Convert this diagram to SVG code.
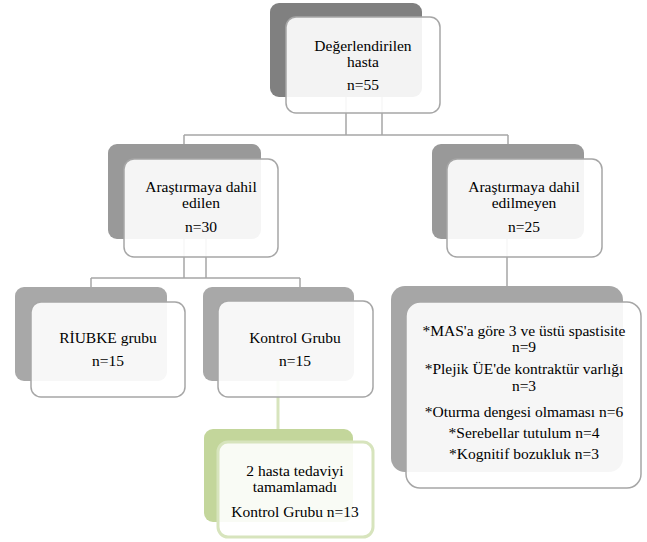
<svg xmlns="http://www.w3.org/2000/svg" width="647" height="542" viewBox="0 0 647 542">
<style>
.fr{fill:#ffffff;fill-opacity:0.9;stroke:#a6a6a6;stroke-width:1.5}
.frg{fill:#ffffff;fill-opacity:0.9;stroke:#d7e4bd;stroke-width:3}
.cn{stroke:#a6a6a6;stroke-width:1.5;fill:none}
.t{font-family:"Times New Roman",Times,Tinos,"Liberation Serif","Noto Serif","DejaVu Serif",serif;font-size:15.5px;fill:#000;text-anchor:middle}
</style>
<rect width="647" height="542" fill="#ffffff"/>
<g id="connectors">
<path class="cn" d="M346 97V135M382 97V135M184 135H508M184 135V144M508 135V144"/>
<path class="cn" d="M184 239V278M206 239V278M91 278H300M91 278V287M300 278V287"/>
<path class="cn" d="M507 239V286"/>
<path d="M278 381V429" stroke="#d7e4bd" stroke-width="3" fill="none"/>
</g>
<g id="node-hasta">
<rect x="270" y="3" width="152" height="94" rx="9" fill="#808080"/>
<rect class="fr" x="286" y="17" width="154" height="96" rx="10"/>
<text class="t" x="363" y="51">Değerlendirilen</text>
<text class="t" x="363" y="67">hasta</text>
<text class="t" x="363" y="90">n=55</text>
</g>
<g id="node-dahil">
<rect x="108" y="144" width="153" height="95" rx="9" fill="#999999"/>
<rect class="fr" x="124" y="159" width="154" height="98" rx="10"/>
<text class="t" x="201" y="192">Araştırmaya dahil</text>
<text class="t" x="201" y="208">edilen</text>
<text class="t" x="201" y="232">n=30</text>
</g>
<g id="node-dahil-degil">
<rect x="432" y="144" width="152" height="95" rx="9" fill="#999999"/>
<rect class="fr" x="447" y="159" width="155" height="98" rx="10"/>
<text class="t" x="524" y="192">Araştırmaya dahil</text>
<text class="t" x="524" y="208">edilmeyen</text>
<text class="t" x="524" y="232">n=25</text>
</g>
<g id="node-riubke">
<rect x="15" y="287" width="152" height="94" rx="9" fill="#a8a8a8"/>
<rect class="fr" x="31" y="302" width="154" height="95" rx="10"/>
<text class="t" x="108" y="343">RİUBKE grubu</text>
<text class="t" x="108" y="366">n=15</text>
</g>
<g id="node-kontrol">
<rect x="203" y="287" width="151" height="94" rx="9" fill="#a8a8a8"/>
<rect class="fr" x="218" y="301" width="155" height="96" rx="10"/>
<text class="t" x="295" y="343">Kontrol Grubu</text>
<text class="t" x="295" y="366">n=15</text>
</g>
<g id="node-exclusion">
<rect x="391" y="286" width="232" height="186" rx="14" fill="#a6a6a6"/>
<rect class="fr" x="406" y="302" width="235" height="186" rx="14"/>
<text class="t" x="524" y="336">*MAS'a göre 3 ve üstü spastisite</text>
<text class="t" x="524" y="352">n=9</text>
<text class="t" x="524" y="374">*Plejik ÜE'de kontraktür varlığı</text>
<text class="t" x="524" y="391">n=3</text>
<text class="t" x="524" y="417">*Oturma dengesi olmaması n=6</text>
<text class="t" x="524" y="438">*Serebellar tutulum n=4</text>
<text class="t" x="524" y="459">*Kognitif bozukluk n=3</text>
</g>
<g id="node-kontrol-13">
<rect x="204" y="429" width="149" height="93" rx="9" fill="#c3d69b"/>
<rect class="frg" x="218" y="442" width="155" height="95" rx="10"/>
<text class="t" x="295" y="476">2 hasta tedaviyi</text>
<text class="t" x="295" y="492">tamamlamadı</text>
<text class="t" x="295" y="517">Kontrol Grubu n=13</text>
</g>
</svg>
